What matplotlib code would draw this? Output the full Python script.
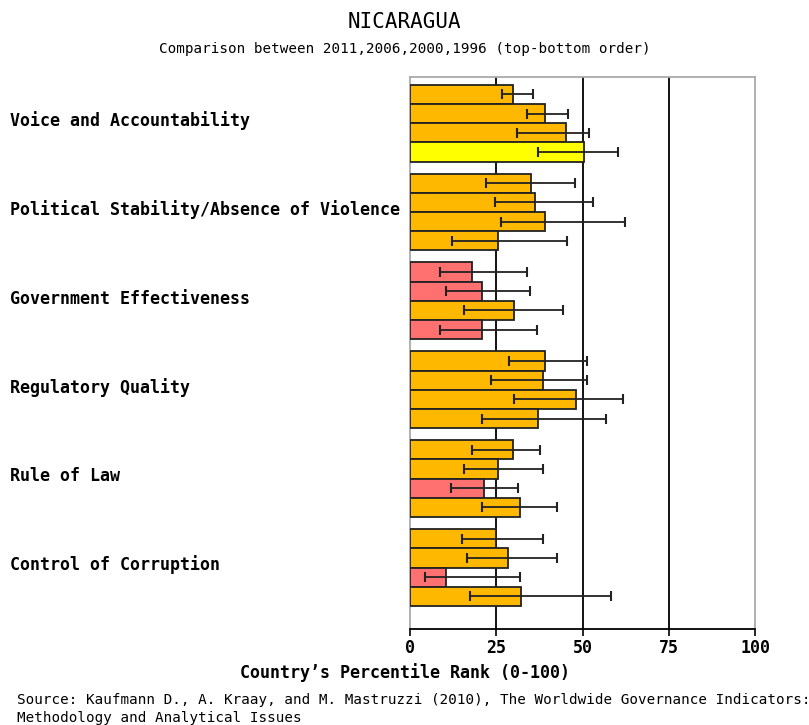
import matplotlib.pyplot as plt
import numpy as np

# indicators, top to bottom
indicators = ["Voice and Accountability",
              "Political Stability/Absence of Violence",
              "Government Effectiveness",
              "Regulatory Quality",
              "Rule of Law",
              "Control of Corruption"]
years = [2011, 2006, 2000, 1996]

# percentile rank per indicator, columns = years (2011, 2006, 2000, 1996)
rank = [[29.7, 39.2, 45.1, 50.5],
        [35.1, 36.3, 39.2, 25.4],
        [17.9, 20.8, 30.1, 20.8],
        [39.2, 38.5, 48.1, 37.1],
        [29.7, 25.4, 21.3, 31.8],
        [25.0, 28.4, 10.5, 32.2]]
low = [[26.7, 33.9, 30.9, 37.1],
       [22.1, 24.7, 26.4, 12.2],
       [8.8, 10.5, 15.5, 8.8],
       [28.8, 23.4, 30.0, 20.9],
       [18.0, 15.5, 11.8, 20.9],
       [15.1, 16.4, 4.2, 17.5]]
high = [[35.6, 45.9, 51.8, 60.2],
        [47.7, 53.1, 62.2, 45.5],
        [33.8, 34.7, 44.3, 36.7],
        [51.4, 51.4, 61.8, 56.8],
        [37.7, 38.6, 31.3, 42.6],
        [38.6, 42.6, 31.8, 58.1]]

def rank_color(v):
    if v < 10:
        return "#ff0000"
    if v < 25:
        return "#ff7070"
    if v < 50:
        return "#ffb800"
    if v < 75:
        return "#ffff00"
    if v < 90:
        return "#99cc66"
    return "#009900"

mono = "DejaVu Sans Mono"
fig = plt.figure(figsize=(8.09, 7.25), dpi=100)
ax = fig.add_axes([410 / 809, (725 - 629) / 725, 345.3 / 809, 552 / 725])

pitch = 4.625  # group spacing in bar heights
for g in range(len(indicators)):
    for k in range(len(years)):
        y = -(g * pitch + k + 0.5)
        v = rank[g][k]
        ax.barh(y, v, height=1.0, color=rank_color(v), edgecolor="#222222",
                linewidth=1.3, zorder=3)
        ax.errorbar(v, y, xerr=[[v - low[g][k]], [high[g][k] - v]], fmt="none",
                    ecolor="#222222", elinewidth=1.3, capsize=3.3, capthick=1.5,
                    zorder=4)
    # row label, left aligned at the figure edge
    fig.text(10 / 809, 1 - (121 + g * 88.8) / 725, indicators[g],
             family=mono, weight="bold", fontsize=12, va="center", ha="left")

ax.set_xlim(0, 100)
ax.set_ylim(-(5 * pitch + 4 + 1.2), 0.4)
for x in [25, 50, 75]:
    ax.axvline(x, color="black", linewidth=1.3, zorder=2)
ax.set_yticks([])
ax.set_xticks([0, 25, 50, 75, 100])
ax.set_xticklabels(["0", "25", "50", "75", "100"], family=mono, weight="bold",
                   fontsize=12)
ax.tick_params(axis="x", direction="out", length=5, width=1.2, pad=2)
for s in ["top", "left", "right"]:
    ax.spines[s].set_color("#aaaaaa")
    ax.spines[s].set_linewidth(1.3)
ax.spines["bottom"].set_color("black")
ax.spines["bottom"].set_linewidth(1.3)

fig.text(0.5, 1 - 22 / 725, "NICARAGUA", family=mono, fontsize=15,
         ha="center", va="center")
fig.text(0.5, 1 - 49 / 725,
         "Comparison between 2011,2006,2000,1996 (top-bottom order)",
         family=mono, fontsize=10.3, ha="center", va="center")
fig.text(0.5, 1 - 673 / 725, "Country\u2019s Percentile Rank (0-100)",
         family=mono, weight="bold", fontsize=12, ha="center", va="center")
fig.text(17 / 809, 1 - 700 / 725,
         "Source: Kaufmann D., A. Kraay, and M. Mastruzzi (2010), The Worldwide Governance Indicators:",
         family=mono, fontsize=10.3, ha="left", va="center")
fig.text(17 / 809, 1 - 718 / 725, "Methodology and Analytical Issues",
         family=mono, fontsize=10.3, ha="left", va="center")

fig.savefig("out.png", dpi=100)
